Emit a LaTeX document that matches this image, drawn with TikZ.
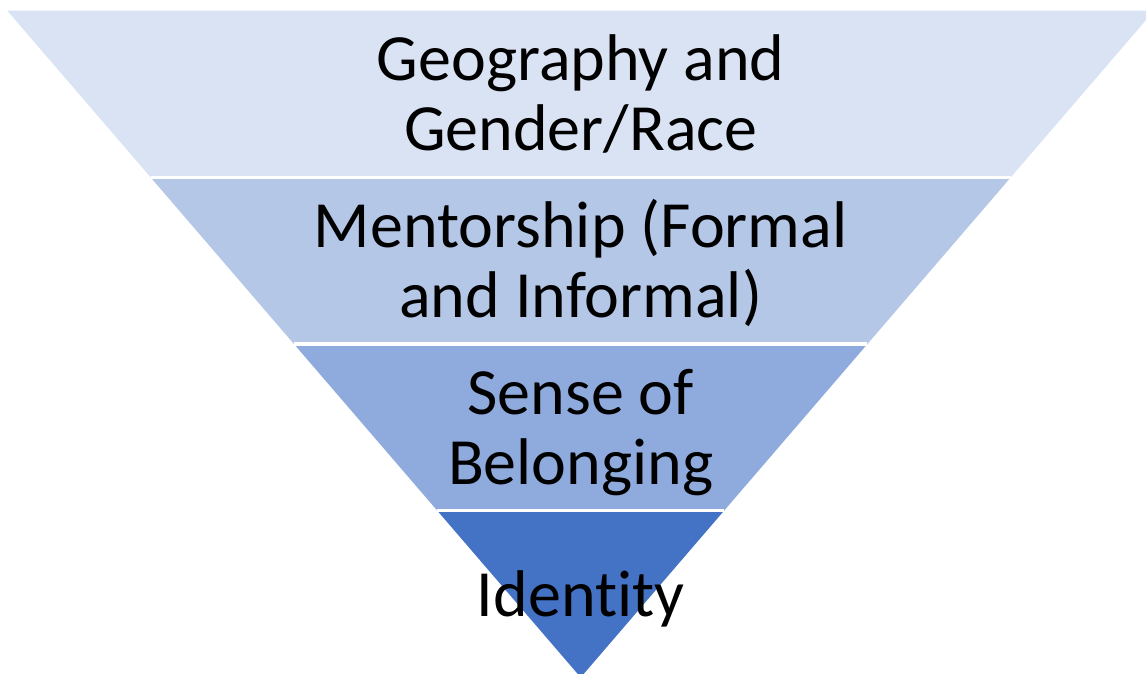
\documentclass[tikz,border=0pt]{standalone}
\usepackage{fontspec}
\setmainfont{Carlito}[Ligatures=NoCommon]
\usetikzlibrary{calc}
\definecolor{bandA}{HTML}{DAE3F3}
\definecolor{bandB}{HTML}{B4C7E7}
\definecolor{bandC}{HTML}{8FAADC}
\definecolor{bandD}{HTML}{4472C4}
\begin{document}
\begin{tikzpicture}[x=1bp,y=-1bp,
  gap/.style={draw=white,line width=3.5bp},
  label/.style={anchor=base,inner sep=0pt,text=black,font=\fontsize{66bp}{70bp}\selectfont}]
\useasboundingbox (0,0) rectangle (1146,674);
\clip (0,0) rectangle (1146,674);
% corners of the inverted triangle
\coordinate (TL) at (7.3,10.7);
\coordinate (TR) at (1154.1,10.7);
\coordinate (AP) at (580.7,677.4);
% band boundaries, four equal heights
\coordinate (L1) at ($(TL)!0.25!(AP)$);
\coordinate (R1) at ($(TR)!0.25!(AP)$);
\coordinate (L2) at ($(TL)!0.5!(AP)$);
\coordinate (R2) at ($(TR)!0.5!(AP)$);
\coordinate (L3) at ($(TL)!0.75!(AP)$);
\coordinate (R3) at ($(TR)!0.75!(AP)$);
% bands
\fill[bandA] (TL) -- (TR) -- (R1) -- (L1) -- cycle;
\fill[bandB] (L1) -- (R1) -- (R2) -- (L2) -- cycle;
\fill[bandC] (L2) -- (R2) -- (R3) -- (L3) -- cycle;
\fill[bandD] (L3) -- (R3) -- (AP) -- cycle;
% white separators
\draw[gap] (L1) -- (R1);
\draw[gap] (L2) -- (R2);
\draw[gap] (L3) -- (R3);
% labels
\node[label] (geo1) at (580.7,81) {Geography and};
\node[label] (geo2) at (580.7,151) {Gender/Race};
\node[label] (men1) at (580.7,247.7) {Mentorship (Formal};
\node[label] (men2) at (580.7,317.7) {and Informal)};
\node[label] (bel1) at (580.7,414.4) {Sense of};
\node[label] (bel2) at (580.7,484.4) {Belonging};
\node[label] (ide) at (580.7,616) {Identity};
\end{tikzpicture}
\end{document}
